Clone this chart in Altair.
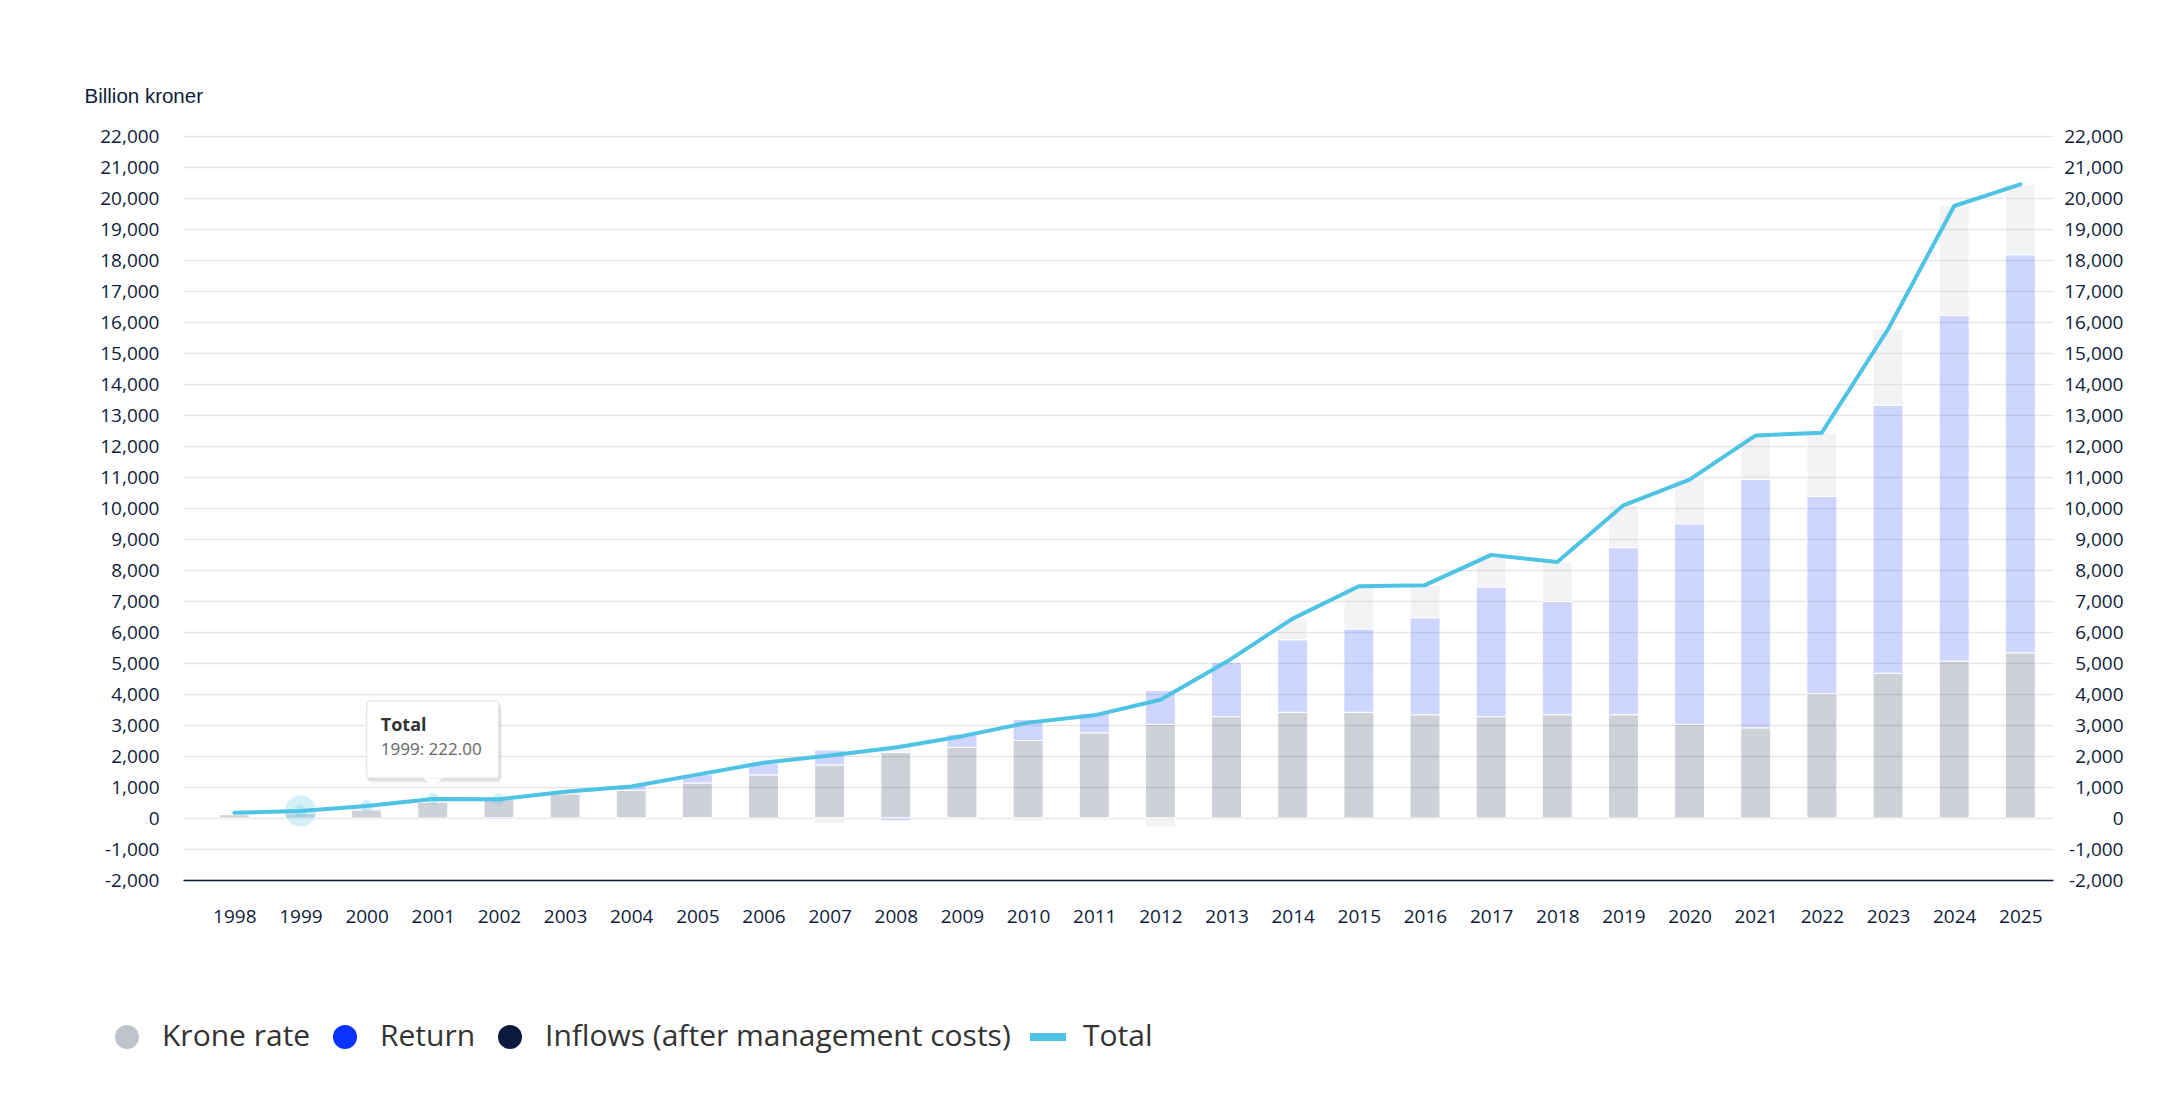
import altair as alt
import pandas as pd

# ---------------- data (billion NOK) ----------------
years = [1998, 1999, 2000, 2001, 2002, 2003, 2004, 2005, 2006, 2007,
         2008, 2009, 2010, 2011, 2012, 2013, 2014, 2015, 2016, 2017,
         2018, 2019, 2020, 2021, 2022, 2023, 2024, 2025]
inflows = [110, 140, 260, 520, 610, 780, 890, 1130, 1390, 1710,
           2120, 2280, 2500, 2750, 3020, 3270, 3410, 3410, 3330, 3270,
           3330, 3330, 3020, 2910, 4010, 4670, 5060, 5330]
returns = [0, 30, 50, 0, -50, 40, 170, 270, 390, 480,
           -90, 420, 680, 630, 1090, 1760, 2340, 2690, 3130, 4180,
           3650, 5390, 6470, 8020, 6360, 8640, 11150, 12840]
krone = [62, 52, 76, 93, 44, 25, -44, -1, 4, -171,
         245, -60, -103, -68, -294, 8, 681, 1375, 1050, 1038,
         1276, 1368, 1424, 1410, 2059, 2455, 3532, 2270]
totals = [172, 222, 386, 613, 604, 845, 1016, 1399, 1784, 2019,
          2275, 2640, 3077, 3312, 3816, 5038, 6431, 7475, 7510, 8488,
          8256, 10088, 10914, 12340, 12429, 15765, 19742, 20440]
y_ticks = [-2000, -1000, 0, 1000, 2000, 3000, 4000, 5000, 6000, 7000, 8000,
           9000, 10000, 11000, 12000, 13000, 14000, 15000, 16000, 17000,
           18000, 19000, 20000, 21000, 22000]

series_names = ["Krone rate", "Return", "Inflows (after management costs)", "Total"]
series_colors = ["#bfc3cc", "#0a33ff", "#0a1a3c", "#4fc3e3"]
series_shapes = ["circle", "circle", "circle", "M-1.5,-0.33L1.5,-0.33L1.5,0.33L-1.5,0.33Z"]

hover_year = 1999
marker_years = [1999, 2000, 2001, 2002]
tip_year = 2001

NAVY = "#0f1d3b"
FONT = "Open Sans"

# ---------------- tables ----------------
rows = []
for i, yr in enumerate(years):
    rows.append({"year": yr, "series": series_names[2], "value": inflows[i], "ord": 0})
    rows.append({"year": yr, "series": series_names[1], "value": returns[i], "ord": 1})
    rows.append({"year": yr, "series": series_names[0], "value": krone[i], "ord": 2})
bars_df = pd.DataFrame(rows)
line_df = pd.DataFrame({"year": years, "value": totals, "series": "Total"})
marker_df = line_df[line_df["year"].isin(marker_years)]
halo_df = line_df[line_df["year"] == hover_year]
legend_df = pd.DataFrame({"series": series_names, "year": [years[0]] * 4,
                          "value": [0, 0, 0, 0], "show": [0, 0, 0, 0]})
tip_df = pd.DataFrame({
    "year": [tip_year],
    "value": [totals[years.index(tip_year)]],
    "head": ["Total"],
    "body": [f"{hover_year}: {totals[years.index(hover_year)]:.2f}"],
})

# ---------------- scales / axes ----------------
xscale = alt.Scale(domain=[1997.224, 2025.494], nice=False, zero=False, padding=0)
yscale = alt.Scale(domain=[-2000, 22000], nice=False, zero=False, padding=0)
cscale = alt.Scale(domain=series_names, range=series_colors)
sscale = alt.Scale(domain=series_names, range=series_shapes)

x_axis = alt.Axis(values=years, format="d", grid=False, ticks=False, tickSize=0,
                  domain=True, domainColor=NAVY, domainWidth=1.5,
                  labelPadding=36, labelBaseline="middle", labelFontSize=19,
                  labelColor=NAVY, labelFont=FONT, title=None,
                  labelFlush=False, labelOverlap=False)
X = alt.X("year:Q", scale=xscale, axis=x_axis)

label_expr = "(datum.value < 0 ? '-' : '') + format(abs(datum.value), ',d')"
left_axis = alt.Axis(orient="left", values=y_ticks, labelExpr=label_expr,
                     grid=True, gridColor="#e6e6e6", gridWidth=1.4,
                     domain=False, ticks=False, tickSize=0, labelPadding=24,
                     labelFontSize=19, labelColor=NAVY, labelFont=FONT,
                     title="Billion kroner", titleAngle=0, titleX=-99, titleY=-40,
                     titleAlign="left", titleBaseline="middle", titleFontSize=20.5,
                     titleFont="Liberation Sans", titleFontWeight="normal",
                     titleColor=NAVY)
right_axis = alt.Axis(orient="right", values=y_ticks, labelExpr=label_expr,
                      grid=False, domain=False, ticks=False, tickSize=0,
                      labelAlign="right", labelPadding=70,
                      labelFontSize=19, labelColor=NAVY, labelFont=FONT, title=None)
Yn = alt.Y("value:Q", scale=yscale, axis=None)

legend = alt.Legend(
    title=None, orient="none", legendX=-71, legendY=886, direction="horizontal",
    columns=4, padding=0, symbolSize=576, labelFontSize=30, labelFont=FONT,
    labelColor="#333333", labelOffset=20, columnPadding=19, labelLimit=1000,
    symbolOpacity=1, symbolStrokeWidth=0,
)

# ---------------- layers ----------------
bars = alt.Chart(bars_df).mark_bar(
    orient="vertical", size=30, fillOpacity=0.2, stroke="white", strokeWidth=1
).encode(
    x=X,
    y=alt.Y("value:Q", stack="zero", scale=yscale, axis=left_axis),
    color=alt.Color("series:N", scale=cscale, legend=legend),
    order=alt.Order("ord:Q"),
)

line = alt.Chart(line_df).mark_line(
    strokeWidth=4, strokeCap="round", strokeJoin="round"
).encode(
    x=X,
    y=alt.Y("value:Q", scale=yscale, axis=right_axis),
    color=alt.Color("series:N", scale=cscale, legend=legend),
)

# empty layer that gives the legend its circle / line symbols
legend_layer = alt.Chart(legend_df).mark_point(filled=True, opacity=1).encode(
    x=X, y=Yn,
    color=alt.Color("series:N", scale=cscale, legend=legend),
    shape=alt.Shape("series:N", scale=sscale, legend=legend),
).transform_filter("datum.show > 0")

markers = alt.Chart(marker_df).mark_circle(size=150, color="#4fc3e3", opacity=0.25).encode(
    x=X, y=Yn)
halo = alt.Chart(halo_df).mark_circle(size=961, color="#4fc3e3", opacity=0.25).encode(
    x=X, y=Yn)

tip_base = alt.Chart(tip_df).encode(x=X, y=Yn)
tip_enc = dict(x2="year:Q", y2="value:Q")
shadow1 = tip_base.mark_rect(xOffset=-65, x2Offset=69, yOffset=-95, y2Offset=-16,
                             cornerRadius=5, fill="#000000", opacity=0.05).encode(**tip_enc)
shadow2 = tip_base.mark_rect(xOffset=-66, x2Offset=68, yOffset=-97, y2Offset=-18,
                             cornerRadius=4, fill="#000000", opacity=0.08).encode(**tip_enc)
box = tip_base.mark_rect(xOffset=-66, x2Offset=66, yOffset=-98, y2Offset=-21,
                         cornerRadius=3, fill="white", stroke="#e2e2e2",
                         strokeWidth=1).encode(**tip_enc)
pointer = tip_base.mark_point(shape="M-1,-0.5L1,-0.5L0,0.5Z", size=324, filled=True,
                              fill="white", stroke="#dddddd", strokeWidth=0.5,
                              opacity=1, yOffset=-16)
pointer_cover = tip_base.mark_rect(xOffset=-10, x2Offset=10, yOffset=-23, y2Offset=-20.5,
                                   fill="white").encode(**tip_enc)
head = tip_base.mark_text(align="left", baseline="middle", dx=-52, dy=-72.5,
                          fontSize=18, fontWeight="bold", font=FONT,
                          color="#333333").encode(text="head:N")
body = tip_base.mark_text(align="left", baseline="middle", dx=-52, dy=-48.5,
                          fontSize=17, font=FONT, color="#666666").encode(text="body:N")

chart = alt.layer(
    bars, line, legend_layer, markers, halo, shadow1, shadow2, box, pointer,
    pointer_cover, head, body
).resolve_axis(y="independent").properties(
    width=1870, height=744,
    autosize=alt.AutoSizeParams(type="none"),
    padding={"left": 175, "top": 128, "right": 115, "bottom": 206},
    background="white",
).configure_view(stroke=None)

chart.save("out.html", embed_options={"renderer": "svg", "actions": False})
